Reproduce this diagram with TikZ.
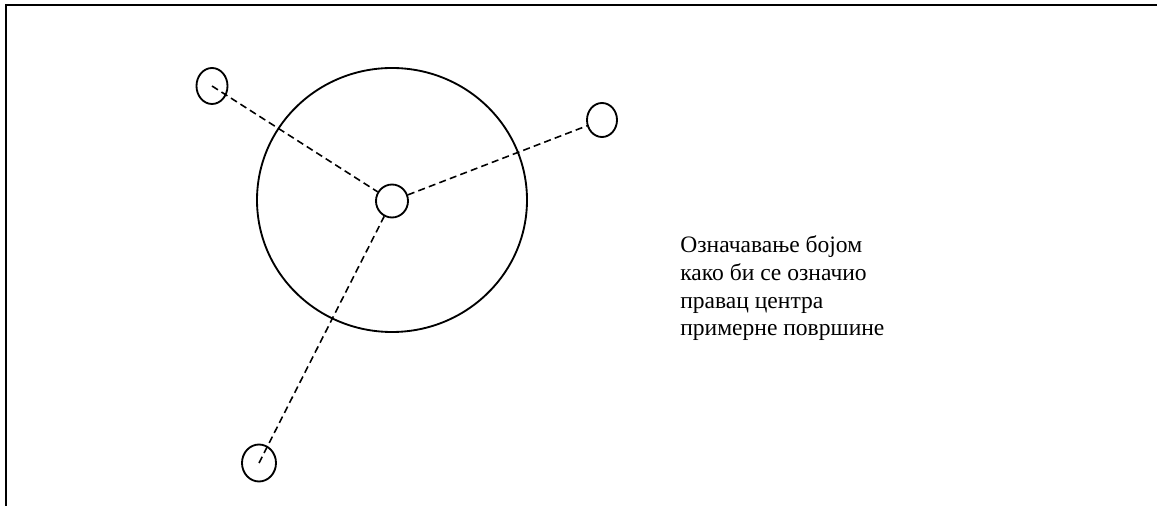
\documentclass[tikz,border=0pt]{standalone}
\usepackage{fontspec}
\setmainfont{Liberation Serif}
\usetikzlibrary{shapes.geometric}

\tikzset{
	ring/.style={draw, ellipse, line width=1.05pt, inner sep=0pt},
	spoke/.style={line width=0.9pt, dash pattern=on 4pt off 2.4pt},
}

\begin{document}
\begin{tikzpicture}[x=0.02cm, y=-0.02cm]
		\useasboundingbox (0,0) rectangle (1157,506);
		
		% Frame
		\draw[line width=1.4pt] (6,506) -- (6,5) -- (1157,5);
		
		% Sample surface
		\node[ring, minimum width=270*0.02cm, minimum height=264*0.02cm] (area) at (392,200) {};
		
		% Centre and the three marks
		\node[ring, minimum width=32*0.02cm, minimum height=33*0.02cm] (mid) at (392,201) {};
		\node[ring, minimum width=31*0.02cm, minimum height=36*0.02cm] (tl) at (212,86) {};
		\node[ring, minimum width=30*0.02cm, minimum height=34*0.02cm] (rt) at (602,120) {};
		\node[ring, minimum width=34*0.02cm, minimum height=37*0.02cm] (bl) at (259,463) {};
		
		% Directions to the centre
		\draw[spoke] (tl.center) -- (mid);
		\draw[spoke] (mid) -- (rt);
		\draw[spoke] (bl.center) -- (mid);
		
		% Note
		\node[anchor=base west, inner sep=0pt, align=left, font=\fontsize{13.4}{15.9}\selectfont] (note) at (680,336)
			{Означавање бојом\\како би се означио\\правац центра\\примерне површине};
	\end{tikzpicture}
\end{document}
